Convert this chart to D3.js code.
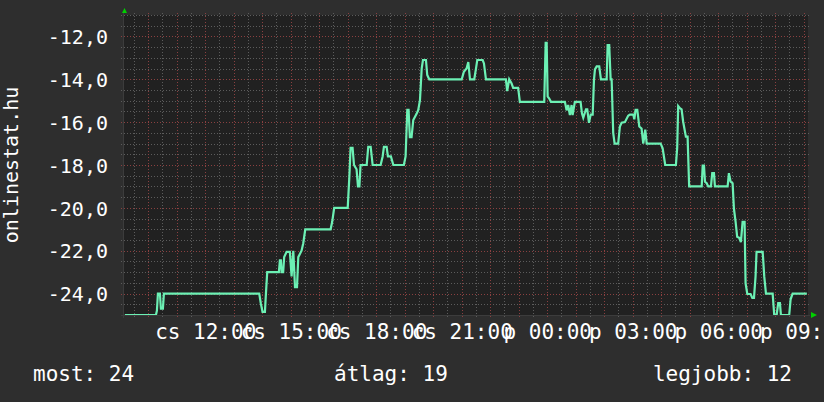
<!DOCTYPE html>
<html>
<head>
<meta charset="utf-8">
<script src="https://cdn.jsdelivr.net/npm/d3@7"></script>
<style>
  html, body { margin: 0; padding: 0; background: #2e2e2e; }
  svg { display: block; }
  text { font-family: "DejaVu Sans Mono", monospace; fill: #ffffff; }
</style>
</head>
<body>
<div id="chart"></div>
<script>
// hours since Thursday 00:00 (24h window), rank shown negated
var hours = [9.18, 10.27, 10.305, 10.34, 10.41, 10.445, 10.515, 10.55, 13.895, 13.95,
  14.01, 14.095, 14.13, 14.175, 14.585, 14.62, 14.655, 14.68, 14.735, 14.77,
  14.855, 14.97, 15.03, 15.09, 15.15, 15.22, 15.265, 15.38, 15.44, 15.51,
  16.40, 16.455, 16.525, 17.0, 17.055, 17.1, 17.17, 17.22, 17.31, 17.36,
  17.41, 17.45, 17.665, 17.72, 17.805, 17.875, 18.155, 18.225, 18.27, 18.365,
  18.41, 18.515, 18.6, 18.97, 19.03, 19.09, 19.135, 19.18, 19.24, 19.3,
  19.42, 19.475, 19.535, 19.595, 19.64, 19.745, 19.79, 19.86, 21.0, 21.075,
  21.17, 21.23, 21.29, 21.44, 21.5, 21.545, 21.735, 21.78, 21.85, 22.55,
  22.595, 22.665, 22.75, 22.805, 22.98, 23.04, 23.895, 23.945, 23.98, 24.015,
  24.07, 24.13, 24.62, 24.68, 24.735, 24.795, 24.855, 24.89, 24.97, 25.17,
  25.22, 25.265, 25.36, 25.405, 25.465, 25.525, 25.595, 25.64, 25.675, 25.735,
  25.825, 25.885, 26.085, 26.12, 26.175, 26.225, 26.26, 26.315, 26.365, 26.49,
  26.55, 26.61, 26.725, 26.84, 26.9, 27.02, 27.055, 27.1, 27.16, 27.23,
  27.31, 27.37, 27.44, 27.49, 27.98, 28.05, 28.14, 28.515, 28.56, 28.595,
  28.655, 28.715, 28.77, 28.865, 28.925, 28.98, 29.42, 29.455, 29.5, 29.535,
  29.595, 29.65, 29.745, 29.79, 29.85, 29.885, 30.33, 30.375, 30.435, 30.505,
  30.55, 30.61, 30.665, 30.735, 30.795, 30.855, 30.925, 30.96, 31.02, 31.135,
  31.195, 31.255, 31.31, 31.345, 31.56, 31.615, 31.675, 31.91, 31.965, 32.05,
  32.105, 32.165, 32.2, 32.49, 32.54, 32.61, 33.11];
var rank = [-25, -25, -24.8, -24, -24, -24.7, -24.7, -24, -24, -24.45,
  -24.85, -24.85, -24, -23, -23, -22.45, -22.45, -23, -23, -22.3,
  -22.05, -22.05, -23.2, -22, -23.7, -23.7, -22.3, -22, -21.65, -21,
  -21, -20.65, -20, -20, -18.6, -17.2, -17.2, -18, -18.2, -19,
  -19, -18, -18, -17.15, -17.15, -18, -18, -17.6, -17.15, -17.15,
  -17.6, -17.6, -18, -18, -17.6, -15.43, -15.43, -16.7, -16.7, -15.9,
  -15.6, -15.43, -14.97, -13.5, -13.1, -13.1, -13.8, -14, -14, -13.65,
  -13.5, -13.2, -14, -14, -13.5, -13.1, -13.1, -13.26, -14, -14,
  -14.55, -14, -14.2, -14.4, -14.4, -15.05, -15.05, -12.3, -12.3, -14.8,
  -14.9, -15.05, -15.05, -15.45, -15.2, -15.67, -15.2, -15.67, -15.05, -15.05,
  -15.6, -15.8, -15.4, -15.4, -16.03, -15.65, -15.65, -14.03, -13.54, -13.4,
  -13.4, -14, -14, -12.4, -12.4, -14, -14, -16.5, -17, -17,
  -16.2, -16.03, -16.0, -15.7, -15.65, -15.65, -15.87, -15.43, -15.43, -16.2,
  -16.3, -17, -16.35, -17, -17, -17.22, -18, -18, -17.2, -15.25,
  -15.35, -15.4, -15.98, -16.68, -16.68, -19, -19, -18.03, -18.03, -18.78,
  -18.85, -19, -19, -18.38, -18.38, -19, -19, -18.38, -18.78, -18.85,
  -20.02, -20.65, -21.35, -21.4, -21.6, -20.65, -20.65, -23.52, -24.02, -24.02,
  -24.2, -24.2, -23.2, -22.05, -22.05, -23.2, -24, -24, -25, -25,
  -24.45, -24.45, -25, -25, -24.27, -24, -24];

var timeRange = [9.15, 33.15];
var rankRange = [-25, -11];
var yTicks = [-24, -22, -20, -18, -16, -14, -12];
var xTicks = [12, 15, 18, 21, 24, 27, 30, 33];
var xTickLabels = ["cs 12:00", "cs 15:00", "cs 18:00", "cs 21:00",
                   "p 00:00", "p 03:00", "p 06:00", "p 09:00"];
var legendItems = ["most: 24", "átlag: 19", "legjobb: 12"];

var W = 824, H = 402;
var plot = { left: 124, right: 808, top: 15, bottom: 315 };

var svg = d3.select("#chart").append("svg")
    .attr("width", W)
    .attr("height", H);

svg.append("rect")
    .attr("width", W).attr("height", H)
    .attr("fill", "#2e2e2e");

svg.append("rect")
    .attr("x", plot.left).attr("y", plot.top)
    .attr("width", plot.right - plot.left)
    .attr("height", plot.bottom - plot.top)
    .attr("fill", "#212121");

var x = d3.scaleLinear().domain(timeRange).range([plot.left, plot.right]);
var y = d3.scaleLinear().domain(rankRange).range([plot.bottom, plot.top]);

// grid: minor every half step, major (red) every hour / every 2 ranks
var vMinor = d3.range(9.5, timeRange[1], 0.5).filter(function(h){ return h % 1 != 0; });
var vMajor = d3.range(10, timeRange[1], 1);
var hMinor = d3.range(-24.5, -10.9, 0.5).filter(function(v){ return v % 2 != 0; });
var hMajor = yTicks;

var grid = svg.append("g").attr("shape-rendering", "crispEdges");

function vLines(vals, color){
    grid.selectAll(null).data(vals).enter().append("line")
        .attr("x1", function(d){ return Math.round(x(d)) + 0.5; })
        .attr("x2", function(d){ return Math.round(x(d)) + 0.5; })
        .attr("y1", plot.top - 2)
        .attr("y2", plot.bottom + 3)
        .attr("stroke", color)
        .attr("stroke-dasharray", "1,2");
}
function hLines(vals, color){
    grid.selectAll(null).data(vals).enter().append("line")
        .attr("y1", function(d){ return Math.round(y(d)) + 0.5; })
        .attr("y2", function(d){ return Math.round(y(d)) + 0.5; })
        .attr("x1", plot.left - 3)
        .attr("x2", plot.right + 2)
        .attr("stroke", color)
        .attr("stroke-dasharray", "1,2");
}
vLines(vMinor, "#5c5c5c");
hLines(hMinor, "#5c5c5c");
vLines(vMajor, "#8a4040");
hLines(hMajor, "#8a4040");

// axes lines
grid.append("line")
    .attr("x1", plot.left - 3).attr("x2", plot.right + 2)
    .attr("y1", plot.bottom + 0.5).attr("y2", plot.bottom + 0.5)
    .attr("stroke", "#3c3c3c");
grid.append("line")
    .attr("x1", plot.left - 0.5).attr("x2", plot.left - 0.5)
    .attr("y1", plot.top - 2).attr("y2", plot.bottom + 3)
    .attr("stroke", "#3c3c3c");

// arrows
svg.append("path")
    .attr("d", "M" + (plot.left - 2) + "," + (plot.top - 2) + " L" + (plot.left + 3) + "," + (plot.top - 2) +
        " L" + (plot.left + 0.5) + "," + (plot.top - 7) + " Z")
    .attr("fill", "#00d000");
svg.append("path")
    .attr("d", "M" + (plot.right + 3) + "," + (plot.bottom - 3) + " L" + (plot.right + 3) + "," + (plot.bottom + 3) +
        " L" + (plot.right + 9) + "," + (plot.bottom) + " Z")
    .attr("fill", "#00d000");

// data line
svg.append("clipPath").attr("id", "clip")
    .append("rect")
    .attr("x", plot.left).attr("y", plot.top)
    .attr("width", plot.right - plot.left)
    .attr("height", plot.bottom - plot.top);

var line = d3.line()
    .x(function(d, i){ return x(hours[i]); })
    .y(function(d){ return y(d); });

svg.append("path")
    .datum(rank)
    .attr("clip-path", "url(#clip)")
    .attr("fill", "none")
    .attr("stroke", "#6cf0b4")
    .attr("stroke-width", 2.2)
    .attr("stroke-linejoin", "miter")
    .attr("d", line);

// y axis labels
var huFmt = d3.formatLocale({ decimal: ",", thousands: " ", grouping: [3],
    currency: ["", " Ft"], minus: "-" }).format(".1f");

var yAxis = d3.axisLeft(y).tickValues(yTicks).tickFormat(huFmt).tickSize(0).tickPadding(0);
var yAxisGroup = svg.append("g")
    .attr("transform", "translate(108,0)")
    .call(yAxis);
yAxisGroup.select(".domain").remove();
yAxisGroup.selectAll("text")
    .attr("font-family", "DejaVu Sans Mono")
    .attr("font-size", "20px")
    .attr("fill", "#ffffff")
    .attr("dy", "0.36em");

// x axis labels (they overlap in the original too)
var xAxis = d3.axisBottom(x).tickValues(xTicks)
    .tickFormat(function(d, i){ return xTickLabels[i]; })
    .tickSize(0).tickPadding(0);
var xAxisGroup = svg.append("g")
    .attr("transform", "translate(0,339)")
    .call(xAxis);
xAxisGroup.select(".domain").remove();
xAxisGroup.selectAll("text")
    .attr("font-family", "DejaVu Sans Mono")
    .attr("font-size", "21px")
    .attr("fill", "#ffffff")
    .attr("y", 0)
    .attr("dy", 0);

// y title
svg.append("text")
    .attr("transform", "translate(18," + ((plot.top + plot.bottom) / 2) + ") rotate(-90)")
    .attr("text-anchor", "middle")
    .attr("font-size", "20px")
    .text("onlinestat.hu");

// legend
var legendX = [33, 334, 792];
var legendAnchor = ["start", "start", "end"];
legendItems.forEach(function(t, i){
    svg.append("text")
        .attr("x", legendX[i])
        .attr("y", 381)
        .attr("text-anchor", legendAnchor[i])
        .attr("font-size", "21px")
        .text(t);
});
</script>
</body>
</html>
